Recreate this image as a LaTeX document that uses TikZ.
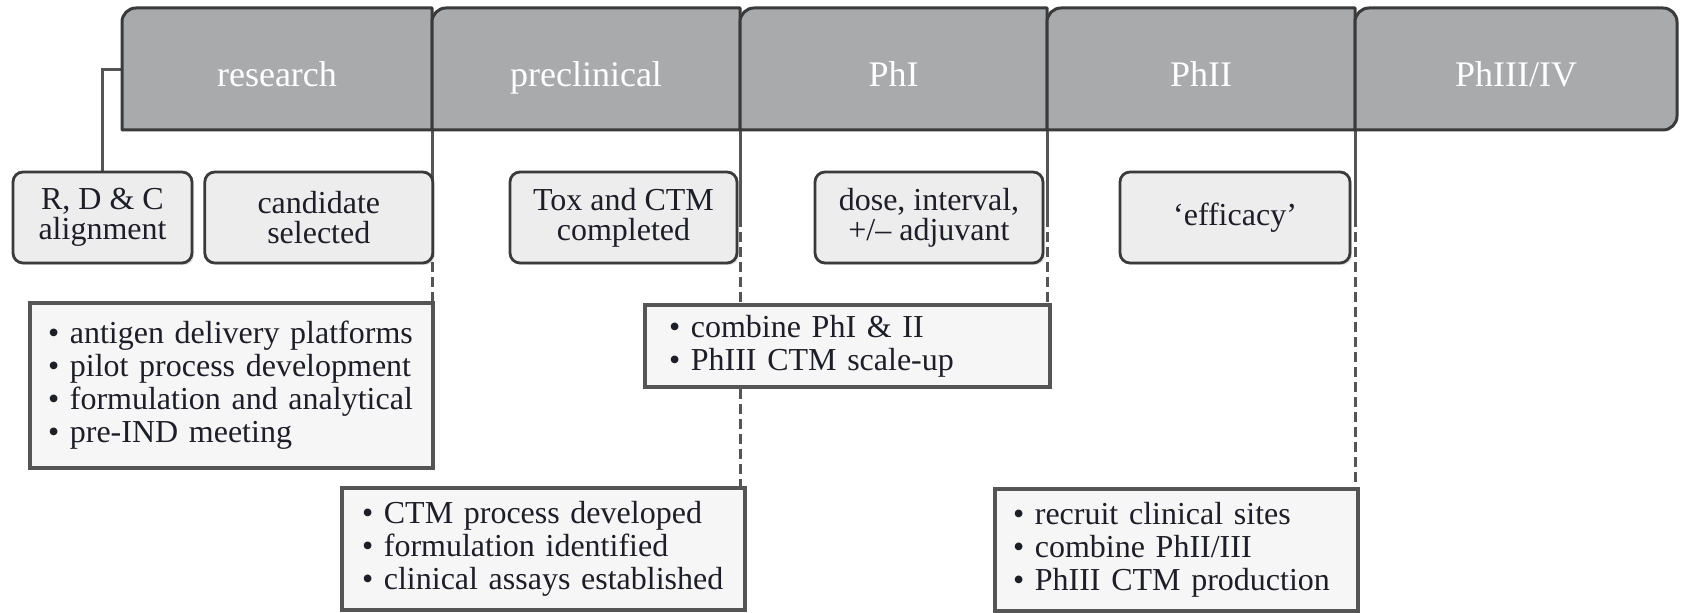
\documentclass[tikz,border=0pt]{standalone}
\usepackage{fontspec}
\setmainfont{Liberation Serif}
\usetikzlibrary{
positioning,
backgrounds,
shadows
}
\definecolor{headgray}{HTML}{A9AAAC}
\definecolor{edgegray}{HTML}{3A3A3A}
\definecolor{linkgray}{HTML}{555555}
\definecolor{milefill}{HTML}{EDEDED}
\definecolor{listfill}{HTML}{F6F6F6}
\definecolor{inkdark}{HTML}{1E1E28}
\tikzset{
headbox/.style={fill=headgray, draw=edgegray, line width=1.5pt, line join=round},
link_solid/.style={draw=linkgray, line width=1.5pt},
link_dash/.style={draw=linkgray, line width=1.5pt, dash pattern=on 5pt off 2.5pt}
}

\begin{document}
\begin{tikzpicture}
[x=0.5pt, y=0.5pt,
phase/.style={rectangle, minimum height=61pt, inner sep=0pt, outer sep=0pt, text height=18pt, text depth=0pt, text=white, font=\fontsize{18}{20}\selectfont},
milestone/.style={rectangle, rounded corners=5pt, draw=edgegray, line width=1.4pt, fill=milefill, align=center, minimum height=45.5pt, inner sep=2pt, text=inkdark, font=\fontsize{16}{15}\selectfont, drop shadow={shadow xshift=1pt, shadow yshift=-1pt, opacity=.25}},
tasklist/.style={rectangle, draw=linkgray, line width=2pt, fill=listfill, align=left, inner xsep=9pt, text=inkdark, font=\fontsize{16}{16.5}\selectfont, drop shadow={shadow xshift=1pt, shadow yshift=-1pt, opacity=.2}}
]
\useasboundingbox (0,0) rectangle (1681,-613);

% phases
\node[phase, minimum width=155pt] (research) at (277,-69) {research};
\node[phase, minimum width=154pt, right=0pt of research] (preclinical) {preclinical};
\node[phase, minimum width=153.5pt, right=0pt of preclinical] (ph1) {PhI};
\node[phase, minimum width=154pt, right=0pt of ph1] (ph2) {PhII};
\node[phase, minimum width=161pt, right=0pt of ph2] (ph3) {PhIII/IV};

% milestones
\node[milestone, minimum width=89.5pt] (rdc) at (102.5,-217.5) {R, D \& C\\alignment};
\node[milestone, minimum width=114pt, right=5pt of rdc] (cand) {candidate\\selected};
\node[milestone, minimum width=113.5pt] (tox) at (623.5,-217.5) {Tox and CTM\\completed};
\node[milestone, minimum width=114pt] (dose) at (929,-217.5) {dose, interval,\\+/– adjuvant};
\node[milestone, minimum width=115pt] (eff) at (1235,-217.5) {‘efficacy’};

% activities
\node[tasklist, text width=183.5pt, minimum height=82.5pt] (resbox) at (231.5,-385.5) {\textbullet\ antigen delivery platforms\\ \textbullet\ pilot process development\\ \textbullet\ formulation and analytical\\ \textbullet\ pre-IND meeting};
\node[tasklist, text width=181.5pt, inner xsep=10pt, minimum height=61pt] (ctmbox) at (543.5,-549) {\textbullet\ CTM process developed\\ \textbullet\ formulation identified\\ \textbullet\ clinical assays established};
\node[tasklist, text width=178.5pt, inner xsep=12pt, minimum height=41pt] (combbox) at (847.5,-346) {\textbullet\ combine PhI \& II\\ \textbullet\ PhIII CTM scale-up};
\node[tasklist, text width=163.5pt, minimum height=61pt] (recbox) at (1176.5,-550) {\textbullet\ recruit clinical sites\\ \textbullet\ combine PhII/III\\ \textbullet\ PhIII CTM production};

\begin{scope}[on background layer]
%%% Pfade %%%
\draw[link_solid] ([yshift=-0.5pt]research.west) -| (rdc.north);
\draw[link_solid] (research.south east) -- (research.south east |- cand.east);
\draw[link_dash] (research.south east |- cand.east) -- (research.south east |- resbox.north);
\draw[link_solid] (preclinical.south east) -- (preclinical.south east |- tox.east);
\draw[link_dash] (preclinical.south east |- tox.east) -- (preclinical.south east |- combbox.north);
\draw[link_dash] (preclinical.south east |- combbox.south) -- (preclinical.south east |- ctmbox.north);
\draw[link_solid] (ph1.south east) -- (ph1.south east |- dose.east);
\draw[link_dash] (ph1.south east |- dose.east) -- (ph1.south east |- combbox.north);
\draw[link_solid] (ph2.south east) -- (ph2.south east |- eff.east);
\draw[link_dash] (ph2.south east |- eff.east) -- (ph2.south east |- recbox.north);

%%% Reiter %%%
\filldraw[headbox] (research.south west) -- ([yshift=-7pt]research.north west) arc[start angle=180, end angle=90, radius=7pt] -- (research.north east) -- (research.south east) -- cycle;
\filldraw[headbox] (preclinical.south west) -- ([yshift=-7pt]preclinical.north west) arc[start angle=180, end angle=90, radius=7pt] -- (preclinical.north east) -- (preclinical.south east) -- cycle;
\filldraw[headbox] (ph1.south west) -- ([yshift=-7pt]ph1.north west) arc[start angle=180, end angle=90, radius=7pt] -- (ph1.north east) -- (ph1.south east) -- cycle;
\filldraw[headbox] (ph2.south west) -- ([yshift=-7pt]ph2.north west) arc[start angle=180, end angle=90, radius=7pt] -- (ph2.north east) -- (ph2.south east) -- cycle;
\filldraw[headbox] (ph3.south west) -- ([yshift=-7pt]ph3.north west) arc[start angle=180, end angle=90, radius=7pt] -- ([xshift=-7pt]ph3.north east) arc[start angle=90, end angle=0, radius=7pt] -- ([yshift=7pt]ph3.south east) arc[start angle=0, end angle=-90, radius=7pt] -- cycle;
\end{scope}

\end{tikzpicture}
\end{document}
